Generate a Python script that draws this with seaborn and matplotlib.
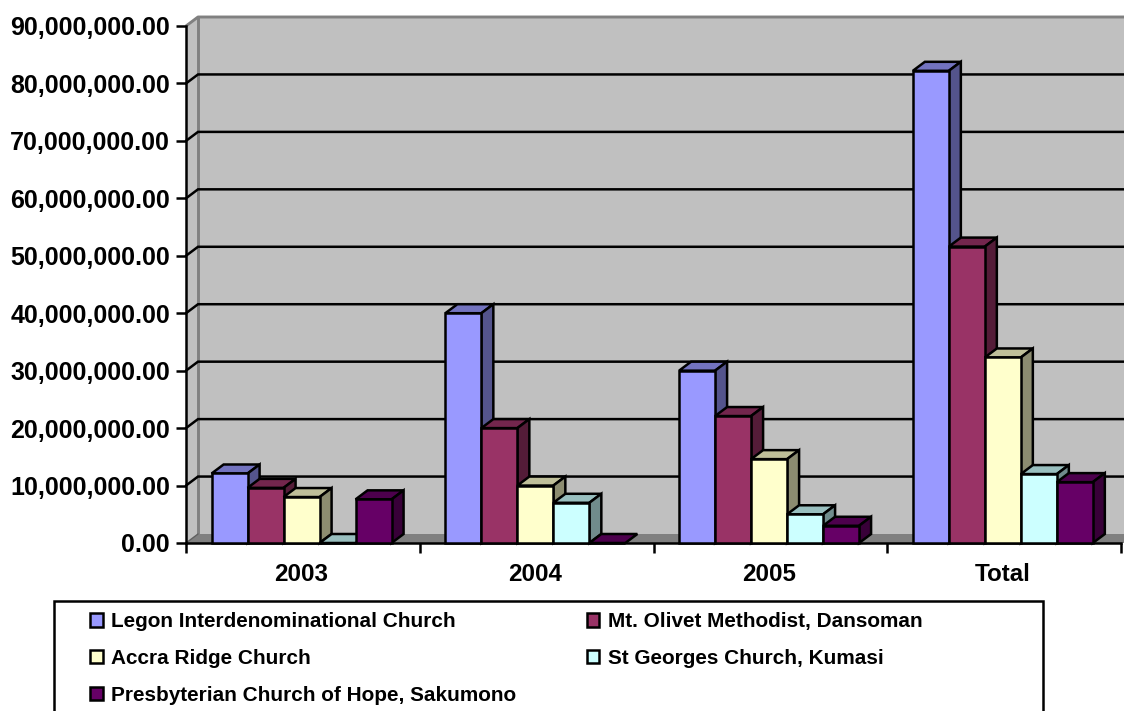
import matplotlib
matplotlib.use("Agg")
import matplotlib.pyplot as plt
from matplotlib.patches import Polygon, Rectangle
from matplotlib.ticker import FuncFormatter
import numpy as np
import pandas as pd
import seaborn as sns

# values
periods = ["2003", "2004", "2005", "Total"]
churches = [
    "Legon Interdenominational Church",
    "Mt. Olivet Methodist, Dansoman",
    "Accra Ridge Church",
    "St Georges Church, Kumasi",
    "Presbyterian Church of Hope, Sakumono",
]
legon = [12.1e6, 40.0e6, 30.0e6, 82.2e6]
olivet = [9.6e6, 20.0e6, 22.1e6, 51.6e6]
ridge = [8.0e6, 10.0e6, 14.6e6, 32.3e6]
st_georges = [0.0, 7.0e6, 5.0e6, 12.0e6]
hope = [7.6e6, 0.0, 3.0e6, 10.6e6]
colors = ["#9999FF", "#993366", "#FFFFCC", "#CCFFFF", "#660066"]

df = pd.DataFrame({
    "period": periods * 5,
    "church": np.repeat(churches, 4),
    "value": legon + olivet + ridge + st_georges + hope,
})

W, H = 1124, 711
DEPTH_X, DEPTH_Y = 12, 9  # 3d offset in pixels
LW = 1.8

sns.set_theme(style="white")
plt.rcParams["font.family"] = ["Liberation Sans", "DejaVu Sans"]

fig = plt.figure(figsize=(W / 100, H / 100), dpi=100)
ax = fig.add_axes([186 / W, 1 - 543 / H, 935 / W, 517 / H])

sns.barplot(data=df, x="period", y="value", hue="church", order=periods,
            hue_order=churches, palette=colors, width=0.77, gap=0, saturation=1,
            edgecolor="black", linewidth=LW, ax=ax)

ax.set_xlim(-0.4945, 3.5055)
ax.set_ylim(0, 90e6)

# pixel offsets turned into data units
dx = DEPTH_X * 4 / 935
dy = DEPTH_Y * 90e6 / 517
x0, x1 = ax.get_xlim()
y1 = ax.get_ylim()[1]


def add_poly(pts, face, z, edge="none", lw=0):
    ax.add_patch(Polygon(pts, closed=True, facecolor=face, edgecolor=edge, linewidth=lw,
                         zorder=z, clip_on=False, joinstyle="miter"))


def shade(color, k):
    return tuple(c * k for c in matplotlib.colors.to_rgb(color))


# walls and floor
add_poly([(x0, 0), (x0 + dx, dy), (x0 + dx, y1 + dy), (x0, y1)], "#C0C0C0", 0)
add_poly([(x0 + dx, dy), (x1 + dx, dy), (x1 + dx, y1 + dy), (x0 + dx, y1 + dy)], "#C0C0C0", 0)
add_poly([(x0, 0), (x1 + dx, 0), (x1 + dx, dy), (x0 + dx, dy)], "#808080", 0.5)
ax.plot([x0, x0 + dx, x1 + dx], [y1, y1 + dy, y1 + dy], color="#808080", lw=2.1, zorder=1,
        clip_on=False, solid_capstyle="butt")
ax.plot([x0 + dx, x0 + dx], [dy, y1 + dy], color="#808080", lw=2.1, zorder=1, clip_on=False)
ax.plot([x0, x0 + dx], [0, dy], color="#606060", lw=1, zorder=1, clip_on=False)

# gridlines run along the back wall and down the left one
for v in np.arange(10e6, 90e6, 10e6):
    ax.plot([x0, x0 + dx, x1 + dx], [v, v + dy, v + dy], color="black", lw=LW, zorder=2,
            clip_on=False, solid_joinstyle="miter")

# top and side faces of every bar
for i, (container, color) in enumerate(zip(ax.containers, colors)):
    for bar in container:
        left, w, h = bar.get_x(), bar.get_width(), bar.get_height()
        right = left + w
        z = 3 + 2 * i
        bar.set_zorder(z + 1)
        bar.set_clip_on(False)
        bar.set_joinstyle("miter")
        add_poly([(left, h), (left + dx, h + dy), (right + dx, h + dy), (right, h)],
                 shade(color, 0.75), z, "black", LW)
        if h > 0:
            add_poly([(right, 0), (right + dx, dy), (right + dx, h + dy), (right, h)],
                     shade(color, 0.55), z, "black", LW)

# axes
sns.despine(ax=ax)
for side in ["left", "bottom"]:
    ax.spines[side].set_linewidth(LW)
    ax.spines[side].set_color("black")
    ax.spines[side].set_zorder(2.5)

ax.set_xlabel("")
ax.set_ylabel("")
ax.set_yticks(np.arange(0, 100e6, 10e6))
ax.yaxis.set_major_formatter(FuncFormatter(lambda v, _: f"{v:,.2f}"))
ax.tick_params(axis="y", length=7.5, width=LW, color="black", left=True, pad=4,
               labelsize=18, labelcolor="black")
ax.tick_params(axis="x", which="major", length=0, pad=14.5, labelsize=17.4, labelcolor="black")
ax.set_xticks(x0 + np.arange(5), minor=True)
ax.tick_params(axis="x", which="minor", length=7.5, width=LW, color="black", bottom=True)
for lab in ax.get_xticklabels() + ax.get_yticklabels():
    lab.set_fontweight("bold")

# legend box runs off the bottom of the picture; entries fill row by row
handles, labels = ax.get_legend_handles_labels()
ax.get_legend().remove()
order = [0, 2, 4, 1, 3]
fig.add_artist(Rectangle((54 / W, -0.02), (1043 - 54) / W, 0.02 + 1 - 601 / H, transform=fig.transFigure,
                         facecolor="white", edgecolor="black", linewidth=LW))
leg = fig.legend([handles[k] for k in order], [labels[k] for k in order], ncol=2, frameon=False,
                 loc="upper left", bbox_to_anchor=(82 / W, 1 - 604 / H),
                 prop={"family": "Liberation Sans", "weight": "bold", "size": 14.95},
                 labelcolor="black", handlelength=0.6, handleheight=0.6, handletextpad=0.4,
                 columnspacing=3.4, labelspacing=0.85, borderpad=0.4, borderaxespad=0)
for h in leg.legend_handles:
    h.set_edgecolor("black")
    h.set_linewidth(LW)
leg.set_zorder(5)

fig.savefig("out.png", dpi=100)
